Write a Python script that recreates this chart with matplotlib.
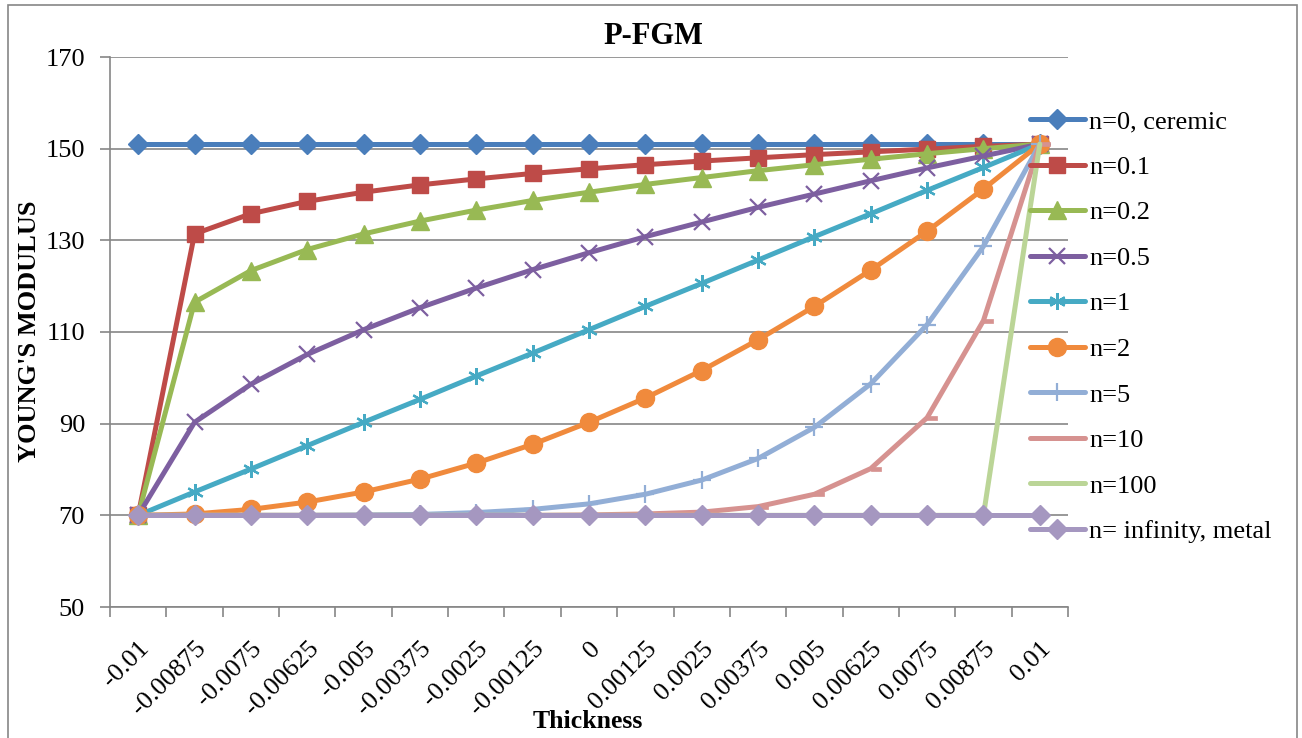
import matplotlib
matplotlib.use("Agg")
import matplotlib.pyplot as plt
from matplotlib.patches import Rectangle
from matplotlib.path import Path
import numpy as np

thickness = ["-0.01", "-0.00875", "-0.0075", "-0.00625", "-0.005", "-0.00375",
             "-0.0025", "-0.00125", "0", "0.00125", "0.0025", "0.00375",
             "0.005", "0.00625", "0.0075", "0.00875", "0.01"]

n0 = [151]*17
n01 = [70, 131.4, 135.8, 138.5, 140.5, 142.1, 143.4, 144.6, 145.6, 146.5, 147.3, 148.0, 148.7, 149.3, 149.9, 150.5, 151]
n02 = [70, 116.5, 123.4, 128.0, 131.4, 134.2, 136.6, 138.7, 140.5, 142.2, 143.7, 145.2, 146.5, 147.7, 148.9, 150.0, 151]
n05 = [70, 90.3, 98.6, 105.1, 110.5, 115.3, 119.6, 123.6, 127.3, 130.8, 134.0, 137.2, 140.1, 143.0, 145.8, 148.4, 151]
n1 = [70, 75.1, 80.1, 85.2, 90.3, 95.3, 100.4, 105.4, 110.5, 115.6, 120.6, 125.7, 130.8, 135.8, 140.9, 145.9, 151]
n2 = [70, 70.3, 71.3, 72.9, 75.1, 77.9, 81.4, 85.5, 90.3, 95.6, 101.6, 108.3, 115.6, 123.5, 132.0, 141.2, 151]
n5 = [70, 70.0, 70.0, 70.0, 70.1, 70.2, 70.6, 71.3, 72.5, 74.6, 77.7, 82.4, 89.2, 98.7, 111.6, 128.7, 151]
n10 = [70, 70, 70, 70, 70, 70, 70, 70.0, 70.1, 70.3, 70.7, 71.9, 74.6, 80.2, 91.3, 112.5, 151]
n100 = [70]*16 + [151]
ninf = [70]*17

labels = ["n=0, ceremic", "n=0.1", "n=0.2", "n=0.5", "n=1", "n=2", "n=5", "n=10", "n=100", "n= infinity, metal"]
series = [n0, n01, n02, n05, n1, n2, n5, n10, n100, ninf]
colors = ["#4A7EBB", "#BE4B48", "#98B954", "#7D5FA0", "#46AAC4", "#F08A3C",
          "#92AED6", "#D69290", "#BBD597", "#A597C0"]

dash_marker = Path([(0, -0.25), (1, -0.25), (1, 0.25), (0, 0.25), (0, -0.25)],
                   [Path.MOVETO, Path.LINETO, Path.LINETO, Path.LINETO, Path.CLOSEPOLY])
markers = ["D", "s", "^", "x", (6, 2, 0), "o", "+", dash_marker, None, "D"]
msizes = [10.5, 12, 13, 12, 12, 13, 13, 14, 0, 10.5]
mews = [1, 1, 1, 1.6, 1.6, 1, 1.6, 0.5, 1, 1]

plt.rcParams['font.family'] = 'serif'
plt.rcParams['font.serif'] = ['Liberation Serif', 'Times New Roman', 'DejaVu Serif']

fig = plt.figure(figsize=(13.02, 7.38), dpi=100)
ax = fig.add_axes([110/1302, 1-607/738, (1068-110)/1302, (607-57)/738])

x = np.arange(len(thickness))
for s, lab, c, m, ms, mw in zip(series, labels, colors, markers, msizes, mews):
    ax.plot(x, s, color=c, lw=3.6, marker=m, markersize=ms, markeredgewidth=mw,
            markerfacecolor=c, markeredgecolor=c, label=lab, solid_capstyle='round')

FS = 19
ax.set_ylim(50, 170)
ax.set_yticks(np.arange(50, 171, 20))
ax.set_xlim(-0.5, 16.5)
ax.set_xticks(np.arange(-0.5, 17, 1))
ax.set_xticklabels([])
ax.set_xticks(x, minor=True)
ax.set_xticklabels(thickness, minor=True, rotation=45, ha='right', va='top',
                   rotation_mode='anchor', fontsize=FS)
ax.tick_params(axis='x', which='minor', length=0, pad=22)
ax.tick_params(axis='x', which='major', length=7, color='#868686', width=1.2)
ax.tick_params(axis='y', length=7, color='#868686', width=1.2, labelsize=FS, pad=11)
ax.grid(axis='y', color='#868686', lw=1.2)
ax.set_axisbelow(True)
for sp in ['top', 'right']:
    ax.spines[sp].set_visible(False)
for sp in ['left', 'bottom']:
    ax.spines[sp].set_color('#868686')
    ax.spines[sp].set_linewidth(1.2)

fig.text(653/1302, 1-36/738, "P-FGM", ha='center', va='center', fontsize=22, fontweight='bold')
fig.text(30/1302, 1-331/738, "YOUNG'S MODULUS", ha='center', va='center', rotation=90,
         fontsize=19, fontweight='bold')
fig.text(588/1302, 1-721/738, "Thickness", ha='center', va='center', fontsize=18.5, fontweight='bold')

leg = ax.legend(loc='upper left', bbox_to_anchor=(1030/1302, 1-110/738), bbox_transform=fig.transFigure,
                frameon=False, fontsize=FS, handlelength=2.08, handletextpad=0.16,
                labelspacing=0.835, borderaxespad=0, borderpad=0)

fig.patches.append(Rectangle((8/1302, -0.01), (1297-8)/1302, 1-5/738+0.01, transform=fig.transFigure,
                             fill=False, edgecolor='#868686', lw=1.2, zorder=10))

fig.savefig("out.png", dpi=100)
